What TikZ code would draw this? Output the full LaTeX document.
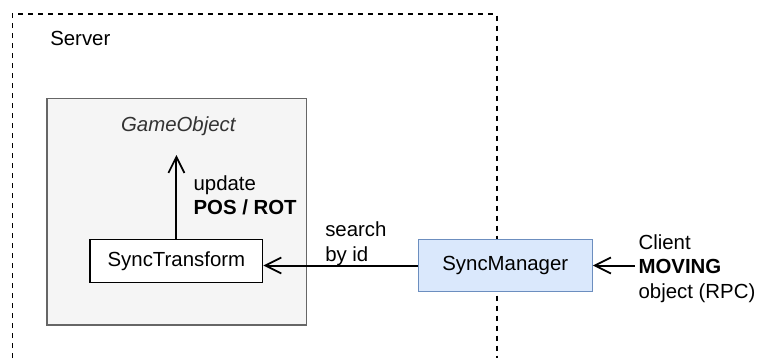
\documentclass[tikz,border=0pt]{standalone}
\usepackage{fontspec}
\setmainfont{Liberation Sans}
\usetikzlibrary{arrows.meta}
\definecolor{goFill}{HTML}{F5F5F5}
\definecolor{goLine}{HTML}{666666}
\definecolor{goText}{HTML}{333333}
\definecolor{smFill}{HTML}{DAE8FC}
\definecolor{smLine}{HTML}{6C8EBF}
\tikzset{
  every node/.style={font=\fontsize{15.3}{18.4}\selectfont},
  label text/.style={anchor=base west, inner sep=0pt},
  box/.style={rectangle, draw, line width=1pt, inner sep=0pt},
  link/.style={line width=1.5pt, -{Straight Barb[length=12pt,width=12pt,line width=1.3pt]}},
  boundary/.style={line width=1.2pt, dash pattern=on 3.75pt off 3.75pt}
}
\begin{document}
\begin{tikzpicture}[x=0.75pt, y=-0.75pt]
  \useasboundingbox (0,0) rectangle (757,358);

  % server boundary, open at the bottom
  \draw[boundary] (12.3,358) -- (12.3,14) -- (496.7,14) -- (496.7,358);
  \node[label text] (server) at (50,45) {Server};

  % game object container
  \node[box, draw=goLine, fill=goFill, minimum width=194.8pt, minimum height=170pt]
    (gameobject) at (176.8,211.7) {};
  \node[anchor=base, inner sep=0pt, text=goText, font=\fontsize{15.3}{18.4}\selectfont\itshape]
    (gotitle) at (178.3,131) {GameObject};

  % components
  \node[box, fill=white, minimum width=129.5pt, minimum height=32.1pt]
    (synctransform) at (176.4,260.9) {SyncTransform};
  \node[box, draw=smLine, fill=smFill, minimum width=130.5pt, minimum height=39.3pt]
    (syncmanager) at (505.3,265.5) {SyncManager};

  % update arrow
  \coordinate (gotip) at (176.4,155);
  \draw[link] (synctransform.north) -- (gotip);
  \node[label text] (upd1) at (193.3,190) {update};
  \node[label text] (upd2) at (193.3,214.5) {\bfseries POS / ROT};

  % search arrow
  \draw[link] (syncmanager.west) -- (synctransform.east |- syncmanager.west);
  \node[label text] (srch1) at (325,236.5) {search};
  \node[label text] (srch2) at (325,261.5) {by id};

  % client input
  \coordinate (clientend) at (634.5,265.5);
  \draw[link] (clientend) -- (syncmanager.east);
  \node[label text] (cl1) at (638.3,249) {Client};
  \node[label text] (cl2) at (638.3,273.5) {\bfseries MOVING};
  \node[label text] (cl3) at (638.3,298) {object (RPC)};
\end{tikzpicture}
\end{document}
